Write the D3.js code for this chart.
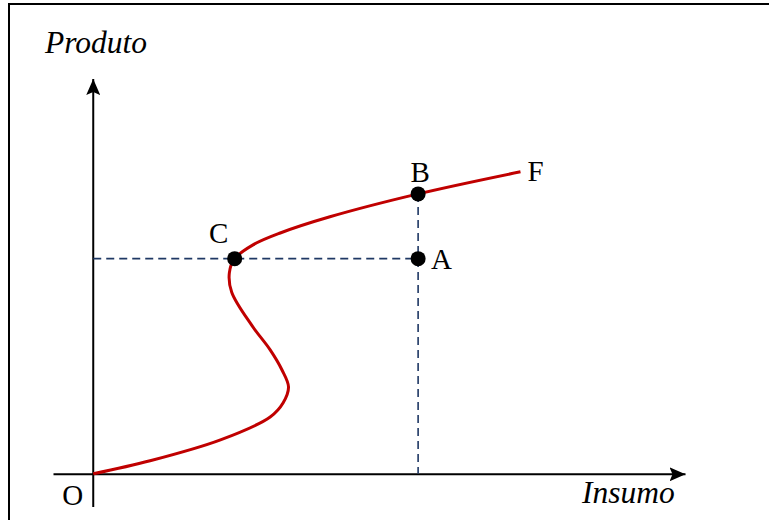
<!DOCTYPE html>
<html>
<head>
<meta charset="utf-8">
<script src="https://cdn.jsdelivr.net/npm/d3@7"></script>
<style>
  body { margin: 0; background: #fff; }
</style>
</head>
<body>
<script>
// curve O -> F (input, output), drawn as a smooth path through these points
const curveX = [0, 9.6, 21.5, 29.9, 32.1, 33.0, 31.9, 29.9, 26.8, 23.4, 23.0, 23.9, 27.0, 31.6, 40.0, 54.9, 72.2];
const curveY = [0, 3.3, 8.6, 14.4, 18.0, 22.0, 26.3, 31.4, 37.6, 46.0, 50.9, 54.5, 58.0, 61.0, 65.1, 70.9, 76.5];

// marked points
const pointNames = ["B", "A", "C"];
const pointX = [54.9, 54.9, 23.9];
const pointY = [70.9, 54.5, 54.5];

const axisTitles = ["Insumo", "Produto"];

const w = 769;
const h = 520;
const serif = "'Liberation Serif', 'Times New Roman', Times, serif";

const x = d3.scaleLinear()
    .domain([-6.8, 100])
    .range([53, 685]);

const y = d3.scaleLinear()
    .domain([-8.4, 100])
    .range([507, 79]);

const svg = d3.select("body")
  .append("svg")
    .attr("width", w)
    .attr("height", h);

// frame
svg.append("rect")
    .attr("x", 9)
    .attr("y", 4)
    .attr("width", w + 10)
    .attr("height", h + 10)
    .attr("fill", "#fff")
    .attr("stroke", "#000")
    .attr("stroke-width", 2);

// arrow head
svg.append("defs").append("marker")
    .attr("id", "arrow")
    .attr("viewBox", "0 0 16 14")
    .attr("refX", 16)
    .attr("refY", 7)
    .attr("markerWidth", 16)
    .attr("markerHeight", 14)
    .attr("markerUnits", "userSpaceOnUse")
    .attr("orient", "auto")
  .append("path")
    .attr("d", "M0,0 L16,7 L0,14 L3,7 Z")
    .attr("fill", "#000");

// axes, no ticks
const xAxis = svg.append("g")
    .attr("transform", `translate(0, ${y(0)})`)
    .call(d3.axisBottom(x).tickValues([]).tickSizeOuter(0));

const yAxis = svg.append("g")
    .attr("transform", `translate(${x(0)}, 0)`)
    .call(d3.axisLeft(y).tickValues([]).tickSizeOuter(0));

[xAxis, yAxis].forEach(g => g.select(".domain")
    .attr("stroke", "#000")
    .attr("stroke-width", 2)
    .attr("marker-end", "url(#arrow)"));

// arrow must sit at the top of the y axis
yAxis.select(".domain").attr("d", `M0,${y(-8.4)}V${y(100)}`);

// dashed guides
const guide = "#1f3864";
svg.append("line")
    .attr("x1", x(0))
    .attr("x2", x(pointX[1]))
    .attr("y1", y(pointY[1]))
    .attr("y2", y(pointY[1]))
    .attr("stroke", guide)
    .attr("stroke-width", 1.6)
    .attr("stroke-dasharray", "8,5");

svg.append("line")
    .attr("x1", x(pointX[0]))
    .attr("x2", x(pointX[0]))
    .attr("y1", y(pointY[0]))
    .attr("y2", y(0))
    .attr("stroke", guide)
    .attr("stroke-width", 1.6)
    .attr("stroke-dasharray", "8,5");

// curve
const curveData = curveX.map((d, i) => [d, curveY[i]]);
const line = d3.line()
    .x(d => x(d[0]))
    .y(d => y(d[1]))
    .curve(d3.curveCatmullRom.alpha(0.5));

svg.append("path")
    .datum(curveData)
    .attr("d", line)
    .attr("fill", "none")
    .attr("stroke", "#c00000")
    .attr("stroke-width", 3);

// dots
const pts = pointNames.map((n, i) => ({name: n, x: pointX[i], y: pointY[i]}));
svg.selectAll("circle")
    .data(pts)
  .enter().append("circle")
    .attr("cx", d => x(d.x))
    .attr("cy", d => y(d.y))
    .attr("r", 7.5)
    .attr("fill", "#000");

// point labels
const labelOffset = {B: [2, -12, "middle"], A: [13, 10, "start"], C: [-16, -16, "middle"]};
svg.selectAll(".plabel")
    .data(pts)
  .enter().append("text")
    .attr("class", "plabel")
    .attr("x", d => x(d.x) + labelOffset[d.name][0])
    .attr("y", d => y(d.y) + labelOffset[d.name][1])
    .attr("text-anchor", d => labelOffset[d.name][2])
    .attr("font-family", serif)
    .attr("font-size", 29)
    .text(d => d.name);

const last = curveData[curveData.length - 1];
svg.append("text")
    .attr("x", x(last[0]) + 7)
    .attr("y", y(last[1]) + 9)
    .attr("font-family", serif)
    .attr("font-size", 29)
    .text("F");

svg.append("text")
    .attr("x", x(0) - 10)
    .attr("y", y(0) + 31)
    .attr("text-anchor", "end")
    .attr("font-family", serif)
    .attr("font-size", 29)
    .text("O");

// axis titles
svg.append("text")
    .attr("x", 582)
    .attr("y", 503)
    .attr("font-family", serif)
    .attr("font-size", 31.5)
    .attr("font-style", "italic")
    .text(axisTitles[0]);

svg.append("text")
    .attr("x", 45)
    .attr("y", 53)
    .attr("font-family", serif)
    .attr("font-size", 31.5)
    .attr("font-style", "italic")
    .text(axisTitles[1]);
</script>
</body>
</html>
